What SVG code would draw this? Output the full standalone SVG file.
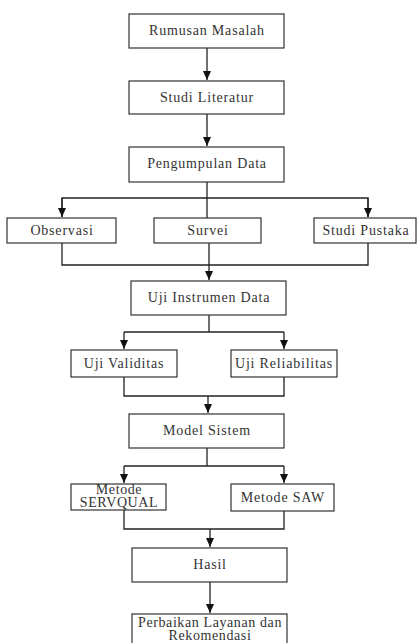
<svg xmlns="http://www.w3.org/2000/svg" width="417" height="643" viewBox="0 0 417 643">
<defs>
<style>
.box{fill:#fff;stroke:#333;stroke-width:1.2}
.t{font-family:"Liberation Serif","Times New Roman",serif;font-size:14px;fill:#333;text-anchor:middle;letter-spacing:0.8px}
.s{letter-spacing:0.6px}
.c{fill:none;stroke:#222;stroke-width:1.3}
</style>
<marker id="ah" markerUnits="userSpaceOnUse" markerWidth="10" markerHeight="8" refX="9" refY="4" orient="auto">
<path d="M0,0 L9,4 L0,8 Z" fill="#111"/>
</marker>
</defs>
<rect width="417" height="643" fill="#fff"/>
<g id="connectors">
<path class="c" d="M207,48 V80" marker-end="url(#ah)"/>
<path class="c" d="M207,114 V146" marker-end="url(#ah)"/>
<path class="c" d="M207,182 V218"/>
<path class="c" d="M62,217 V198 H368 V217"/>
<path class="c" d="M62,198 V217" marker-end="url(#ah)"/>
<path class="c" d="M368,198 V217" marker-end="url(#ah)"/>
<path class="c" d="M62,243 V265 H368 V243"/>
<path class="c" d="M209,243 V280" marker-end="url(#ah)"/>
<path class="c" d="M209,315 V332"/>
<path class="c" d="M124,332 H284"/>
<path class="c" d="M124,332 V349" marker-end="url(#ah)"/>
<path class="c" d="M284,332 V349" marker-end="url(#ah)"/>
<path class="c" d="M124,377 V396 H284 V377"/>
<path class="c" d="M208,396 V413" marker-end="url(#ah)"/>
<path class="c" d="M207,448 V466"/>
<path class="c" d="M124,466 H284"/>
<path class="c" d="M124,466 V483" marker-end="url(#ah)"/>
<path class="c" d="M284,466 V483" marker-end="url(#ah)"/>
<path class="c" d="M124,510 V529 H284 V511"/>
<path class="c" d="M210,529 V547" marker-end="url(#ah)"/>
<path class="c" d="M210,582 V613" marker-end="url(#ah)"/>
</g>
<g id="rumusan"><rect class="box" x="129" y="14" width="155" height="34"/><text class="t" x="207" y="35">Rumusan Masalah</text></g>
<g id="studi-literatur"><rect class="box" x="129" y="81" width="155" height="33"/><text class="t" x="207" y="102">Studi Literatur</text></g>
<g id="pengumpulan"><rect class="box" x="129" y="147" width="155" height="35"/><text class="t" x="207" y="168">Pengumpulan Data</text></g>
<g id="observasi"><rect class="box" x="7" y="218" width="109" height="25"/><text class="t" x="62" y="235">Observasi</text></g>
<g id="survei"><rect class="box" x="154" y="218" width="107" height="25"/><text class="t" x="208" y="235">Survei</text></g>
<g id="studi-pustaka"><rect class="box" x="314" y="218" width="102" height="25"/><text class="t" x="366" y="235">Studi Pustaka</text></g>
<g id="uji-instrumen"><rect class="box" x="131" y="281" width="155" height="34"/><text class="t" x="209" y="302">Uji Instrumen Data</text></g>
<g id="uji-validitas"><rect class="box" x="71" y="350" width="106" height="27"/><text class="t" x="124" y="368">Uji Validitas</text></g>
<g id="uji-reliabilitas"><rect class="box" x="231" y="350" width="106" height="27"/><text class="t" x="284" y="368">Uji Reliabilitas</text></g>
<g id="model-sistem"><rect class="box" x="129" y="414" width="155" height="34"/><text class="t" x="207" y="435">Model Sistem</text></g>
<g id="servqual"><rect class="box" x="71" y="484" width="95" height="26"/><text class="t s" x="119" y="494">Metode</text><text class="t s" x="119" y="507">SERVQUAL</text></g>
<g id="saw"><rect class="box" x="231" y="484" width="103" height="27"/><text class="t" x="283" y="502">Metode SAW</text></g>
<g id="hasil"><rect class="box" x="132" y="548" width="155" height="34"/><text class="t" x="210" y="569">Hasil</text></g>
<g id="perbaikan"><rect class="box" x="132" y="614" width="155" height="40"/><text class="t s" x="210" y="627">Perbaikan Layanan dan</text><text class="t s" x="210" y="640">Rekomendasi</text></g>
</svg>
